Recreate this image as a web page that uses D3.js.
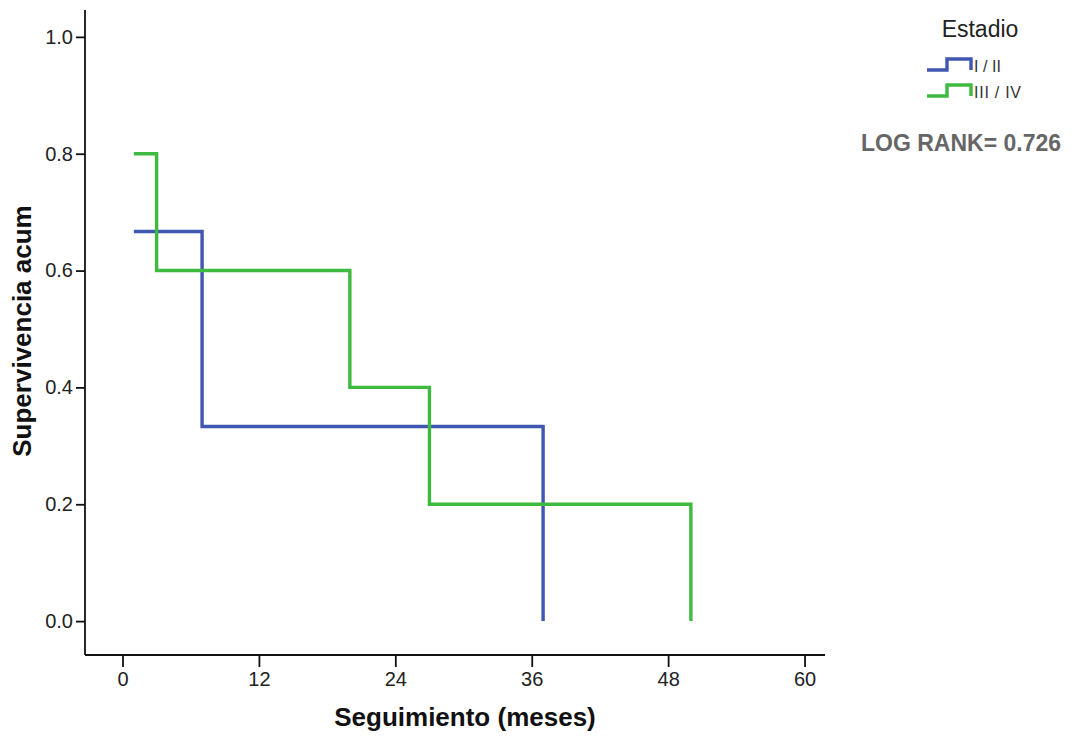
<!DOCTYPE html>
<html lang="es">
<head>
<meta charset="UTF-8">
<title>Supervivencia por estadio</title>
<script src="https://d3js.org/d3.v7.min.js"></script>
<style>
  body { margin: 0; background: #fff; }
  .tick text { font-family: "Liberation Sans", Arial, sans-serif; font-size: 20px; fill: #222; }
  .axis path, .axis line { stroke: #111; stroke-width: 1.8px; }
  .title { font-family: "Liberation Sans", Arial, sans-serif; font-weight: bold; fill: #111; }
</style>
</head>
<body>
<svg width="1073" height="737"></svg>
<script>
// data (time in months, cumulative survival)
const groups = ["I / II", "III / IV"];
const colors = ["#3f57b0", "#3dba3f"];
const blueTimes = [1, 7, 37];
const blueSurv = [0.667, 0.333, 0.0];
const greenTimes = [1, 3, 20, 27, 50];
const greenSurv = [0.8, 0.6, 0.4, 0.2, 0.0];
const xTicks = [0, 12, 24, 36, 48, 60];
const yTicks = [0, 0.2, 0.4, 0.6, 0.8, 1.0];

const svg = d3.select("svg");
const plotL = 85, plotR = 825, plotT = 10, plotB = 655;

const x = d3.scaleLinear().domain([-3.3, 61.8]).range([plotL, plotR]);
const y = d3.scaleLinear().domain([-0.058, 1.046]).range([plotB, plotT]);

// step points: horizontal from each event to the next, then drop
function stepPoints(times, surv) {
  const pts = [];
  for (let i = 0; i < times.length - 1; i++) {
    pts.push([times[i], surv[i]]);
    pts.push([times[i + 1], surv[i]]);
  }
  pts.push([times[times.length - 1], surv[surv.length - 1]]);
  return pts;
}

const line = d3.line().x(d => x(d[0])).y(d => y(d[1]));

// axes
svg.append("g").attr("class", "axis")
  .attr("transform", `translate(0,${plotB})`)
  .call(d3.axisBottom(x).tickValues(xTicks).tickSize(12).tickSizeOuter(0).tickPadding(5))
  .call(g => g.select(".domain").attr("d", `M${plotL},0H${plotR}`));

svg.append("g").attr("class", "axis")
  .attr("transform", `translate(${plotL},0)`)
  .call(d3.axisLeft(y).tickValues(yTicks).tickFormat(d3.format(".1f")).tickSize(9).tickSizeOuter(0).tickPadding(3))
  .call(g => g.select(".domain").attr("d", `M0,${plotT}V${plotB}`));

// curves
const series = [stepPoints(blueTimes, blueSurv), stepPoints(greenTimes, greenSurv)];
svg.selectAll(".curve").data(series).enter().append("path")
  .attr("class", "curve")
  .attr("d", line)
  .attr("fill", "none")
  .attr("stroke", (d, i) => colors[i])
  .attr("stroke-width", 3.4);

// axis titles
svg.append("text").attr("class", "title")
  .attr("x", 465).attr("y", 726)
  .attr("text-anchor", "middle").attr("font-size", 26)
  .text("Seguimiento (meses)");

svg.append("text").attr("class", "title")
  .attr("transform", "translate(31,331) rotate(-90)")
  .attr("text-anchor", "middle").attr("font-size", 26)
  .text("Supervivencia acum");

// legend
svg.append("text")
  .attr("x", 980).attr("y", 37)
  .attr("text-anchor", "middle")
  .attr("font-family", "Liberation Sans, Arial, sans-serif")
  .attr("font-size", 23).attr("fill", "#222")
  .text("Estadio");

const leg = svg.selectAll(".leg").data(groups).enter().append("g")
  .attr("transform", (d, i) => `translate(927,${70 + i * 26})`);
leg.append("path")
  .attr("d", "M0,0H20V-11H44V0")
  .attr("fill", "none")
  .attr("stroke", (d, i) => colors[i])
  .attr("stroke-width", 3.4);
leg.append("text")
  .attr("x", 47).attr("y", 2)
  .attr("font-family", "Liberation Sans, Arial, sans-serif")
  .attr("font-size", 16).attr("fill", "#333")
  .attr("textLength", (d, i) => i === 0 ? 27 : 47)
  .text(d => d);

svg.append("text")
  .attr("x", 961).attr("y", 151)
  .attr("text-anchor", "middle")
  .attr("font-family", "Liberation Sans, Arial, sans-serif")
  .attr("font-weight", "bold")
  .attr("font-size", 23).attr("fill", "#666")
  .text("LOG RANK= 0.726");
</script>
</body>
</html>
